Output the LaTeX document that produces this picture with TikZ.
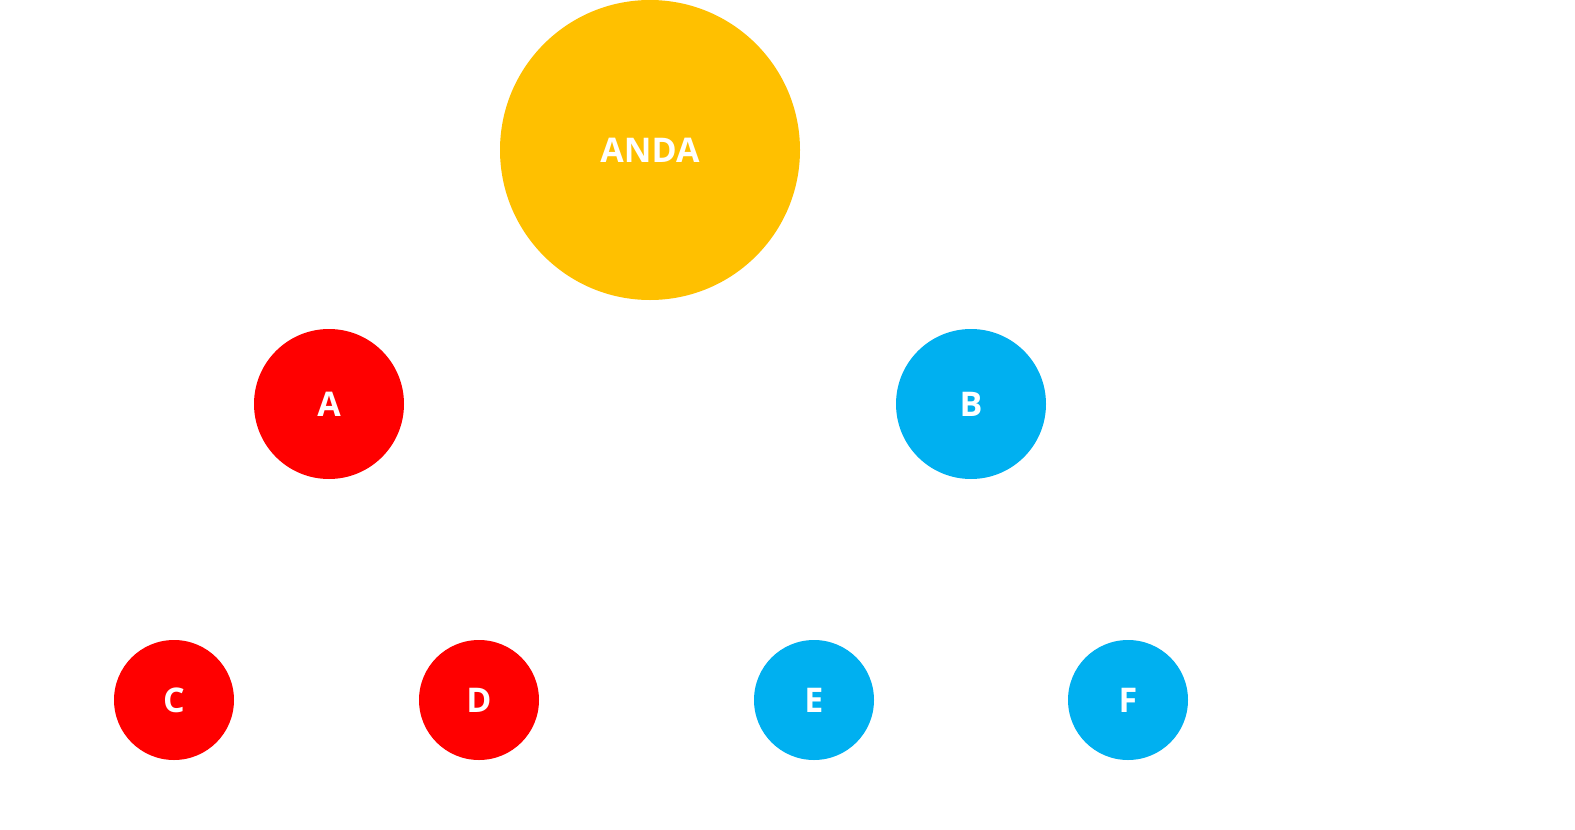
\documentclass[tikz,border=0pt]{standalone}
\usepackage{fontspec}
\setmainfont{Open Sans}
\definecolor{rootyellow}{HTML}{FFC000}
\definecolor{leftred}{HTML}{FF0000}
\definecolor{rightblue}{HTML}{00B0F0}
\newcommand\labelsize{\fontsize{34}{34}\selectfont}
\newcommand\rowA{-404pt}
\newcommand\rowB{-700pt}

\begin{document}
\begin{tikzpicture}[x=1pt,y=1pt,
    ball/.style={circle,inner sep=0pt,text=white,font=\labelsize\bfseries}]
    \useasboundingbox (0,0) rectangle (1575,-830);

    \node[ball,fill=rootyellow,minimum size=300pt] (anda) at (650,-150) {ANDA};

    \node[ball,fill=leftred,minimum size=150pt] (a) at (329,\rowA) {A};
    \node[ball,fill=rightblue,minimum size=150pt] (b) at (971,\rowA) {B};

    \node[ball,fill=leftred,minimum size=120pt] (c) at (174,\rowB) {C};
    \node[ball,fill=leftred,minimum size=120pt] (d) at (479,\rowB) {D};
    \node[ball,fill=rightblue,minimum size=120pt] (e) at (814,\rowB) {E};
    \node[ball,fill=rightblue,minimum size=120pt] (f) at (1128,\rowB) {F};
  \end{tikzpicture}
\end{document}
